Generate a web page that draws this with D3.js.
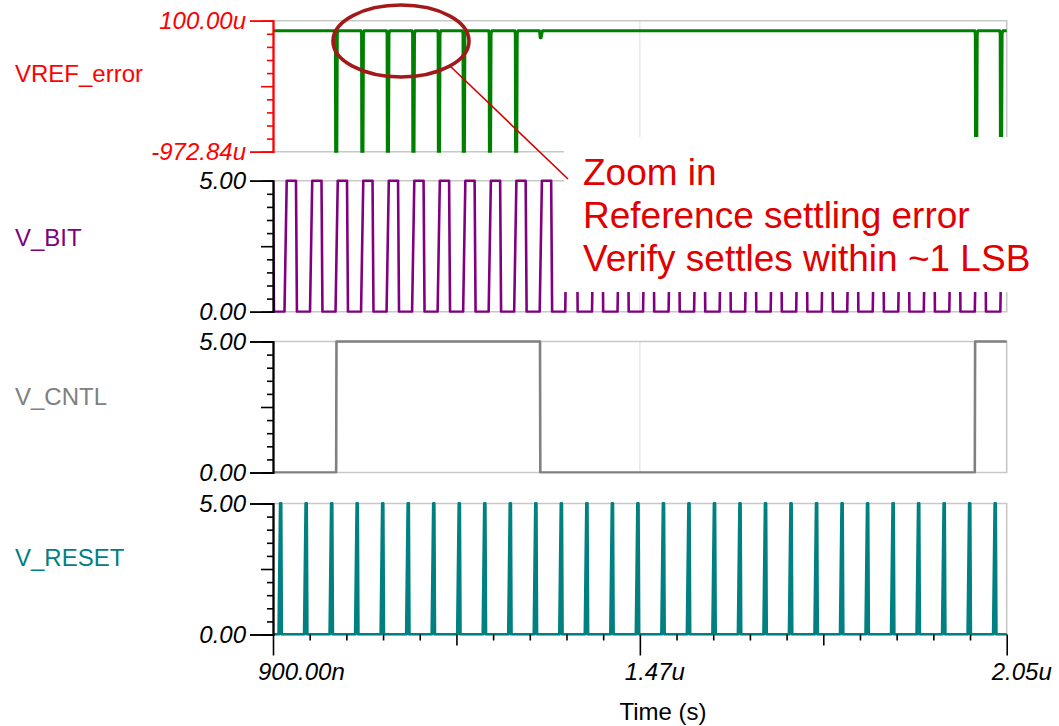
<!DOCTYPE html>
<html lang="en">
<head>
<meta charset="UTF-8">
<title>Reference settling error</title>
<style>
  body { margin: 0; background: #fff; }
  svg { display: block; font-family: "Liberation Sans", Arial, sans-serif; }
  .ylab text, .xlab { font-style: italic; font-size: 24px; }
</style>
</head>
<body>
<svg id="chart" width="1059" height="726"></svg>
<script src="https://d3js.org/d3.v7.min.js"></script>
<script>
// time axis (ns)
var timeDomain = [900, 2050];
var xTickValues = [900, 1475, 2050];
var xTickLabels = ["900.00n", "1.47u", "2.05u"];

// one entry per panel, top to bottom
var signalNames = ["VREF_error", "V_BIT", "V_CNTL", "V_RESET"];
var labelColors = ["#ff0000", "#800080", "#808080", "#008080"];
var traceColors = ["#008000", "#800080", "#808080", "#008080"];
var yDomains = [[-972.84, 100], [0, 5], [0, 5], [0, 5]];
var yTickLabels = [["100.00u", "-972.84u"], ["5.00", "0.00"], ["5.00", "0.00"], ["5.00", "0.00"]];

// VREF_error (uV): settled level and the glitches
var vrefLevel = 18;
var vrefDipTimes = [998, 1039, 1079, 1119, 1159, 1198, 1239, 1280, 1318.5, 2001, 2040];
var vrefDipDepth = [-1300, -1300, -1300, -1300, -1300, -1300, -1300, -1300, -40, -1300, -1300];

// V_BIT edges (ns), starts high
var bitRises = [918, 958, 998, 1038, 1078, 1118, 1158, 1198, 1238, 1278, 1318,
  1358, 1400, 1440, 1480, 1520, 1560, 1600, 1640, 1680, 1720, 1760, 1800, 1840,
  1880, 1920, 1960, 2000, 2040];
var bitFalls = [900, 936, 976, 1016, 1056, 1096, 1136, 1176, 1216, 1256, 1296, 1336,
  1376, 1416, 1456, 1496, 1536, 1576, 1616, 1656, 1696, 1736, 1776, 1816, 1856,
  1896, 1936, 1976, 2016];

// V_CNTL edges (ns), starts low
var cntlRises = [999, 2000];
var cntlFalls = [1318.5];

// V_RESET pulse times (ns)
var resetTimes = [912, 952, 992, 1032, 1072, 1112, 1152, 1192, 1232, 1272, 1312,
  1352, 1392, 1432, 1472, 1512, 1552, 1592, 1632, 1672, 1712, 1752, 1792, 1832,
  1872, 1912, 1952, 1992, 2032];

var noteLines = ["Zoom in", "Reference settling error", "Verify settles within ~1 LSB"];

// ---- layout
var svg = d3.select("#chart");
var left = 273, right = 1006.7;
var panelTops = [20.7, 180.7, 341.5, 503.5];
var panelH = 131;

var x = d3.scaleLinear().domain(timeDomain).range([left, right]);

// build the waveforms from the edge lists
function edgeWave(start, rises, falls, tr, tf) {
  var ev = rises.map(function (t) { return { t: t, up: true }; })
    .concat(falls.map(function (t) { return { t: t, up: false }; }))
    .sort(function (a, b) { return a.t - b.t; });
  var pts = [[timeDomain[0], start]], v = start;
  ev.forEach(function (e) {
    if (e.up) { pts.push([e.t, 0], [e.t + tr, 5]); v = 5; }
    else { pts.push([e.t, 5], [e.t + tf, 0]); v = 0; }
  });
  pts.push([timeDomain[1], v]);
  return pts;
}

var vrefPts = [[timeDomain[0], vrefLevel]];
vrefDipTimes.forEach(function (t, i) {
  var d = vrefDipDepth[i];
  vrefPts.push([t - 1, vrefLevel], [t - 0.2, vrefLevel - 25], [t + 0.3, d],
    [t + 1.8, d], [t + 2.8, vrefLevel - 25], [t + 4, vrefLevel]);
});
vrefPts.push([timeDomain[1], vrefLevel]);

var resetPts = [[timeDomain[0], 0]];
resetTimes.forEach(function (t) {
  resetPts.push([t - 3, 0], [t - 0.6, 5], [t + 0.6, 5], [t + 1.6, 0]);
});
resetPts.push([timeDomain[1], 0]);

var waves = [
  vrefPts,
  edgeWave(5, bitRises, bitFalls, 3.5, 1.5),
  edgeWave(0, cntlRises, cntlFalls, 0.5, 0.5),
  resetPts
];

svg.append("defs").selectAll("clipPath")
  .data(panelTops).enter().append("clipPath")
  .attr("id", function (d, i) { return "clip" + i; })
  .append("rect")
  .attr("x", left).attr("y", function (d) { return d - 2; })
  .attr("width", right - left + 2).attr("height", panelH + 3);

panelTops.forEach(function (top, i) {
  var y = d3.scaleLinear().domain(yDomains[i]).range([top + panelH, top]);
  var g = svg.append("g");
  var axisCol = i === 0 ? "#ff0000" : "#000";

  // frame and centre grid line
  g.append("line").attr("x1", x(xTickValues[1])).attr("x2", x(xTickValues[1]))
    .attr("y1", top).attr("y2", top + panelH).attr("stroke", "#e2e2e2").attr("stroke-width", 1.2);
  g.append("path")
    .attr("d", "M" + left + "," + top + "H" + right + "V" + (top + panelH) + "H" + left)
    .attr("fill", "none").attr("stroke", "#c8c8c8").attr("stroke-width", 1.6);

  // trace
  g.append("path")
    .datum(waves[i])
    .attr("clip-path", "url(#clip" + i + ")")
    .attr("fill", "none")
    .attr("stroke", traceColors[i])
    .attr("stroke-width", i === 0 ? 3 : (i === 3 ? 3 : 2.6))
    .attr("stroke-linejoin", "round")
    .attr("d", d3.line().x(function (d) { return x(d[0]); }).y(function (d) { return y(d[1]); }));

  // left axis: end ticks with labels, a middle tick and minor ticks
  var lo = yDomains[i][0], hi = yDomains[i][1];
  var minor = d3.range(1, 10).filter(function (k) { return k !== 5; })
    .map(function (k) { return lo + (hi - lo) * k / 10; });
  var ax = g.append("g").attr("transform", "translate(" + left + ",0)");
  ax.append("g").attr("class", "ylab")
    .call(d3.axisLeft(y).tickValues([hi, lo]).tickSize(23).tickPadding(4)
      .tickFormat(function (d, k) { return yTickLabels[i][k]; }));
  ax.append("g").call(d3.axisLeft(y).tickValues([(lo + hi) / 2]).tickSize(12).tickFormat(""));
  ax.append("g").call(d3.axisLeft(y).tickValues(minor).tickSize(6).tickFormat(""));
  ax.selectAll("path").attr("stroke", axisCol).attr("stroke-width", 1.6);
  ax.selectAll("line").attr("stroke", axisCol).attr("stroke-width", 1.6);
  ax.selectAll("text").attr("fill", axisCol);

  // signal name
  svg.append("text")
    .attr("x", 15).attr("y", [82, 246, 405, 566][i])
    .attr("fill", labelColors[i]).attr("font-size", 24)
    .text(signalNames[i]);
});

// bottom time axis
var bottom = panelTops[3] + panelH;
var xminor = d3.range(1, 20).filter(function (k) { return k % 5 !== 0; })
  .map(function (k) { return timeDomain[0] + (timeDomain[1] - timeDomain[0]) * k / 20; });
var xmid = [5, 15].map(function (k) { return timeDomain[0] + (timeDomain[1] - timeDomain[0]) * k / 20; });
var xa = svg.append("g").attr("transform", "translate(0," + bottom + ")");
xa.append("g").call(d3.axisBottom(x).tickValues(xTickValues).tickSize(21).tickFormat(""));
xa.append("g").call(d3.axisBottom(x).tickValues(xmid).tickSize(11).tickFormat(""));
xa.append("g").call(d3.axisBottom(x).tickValues(xminor).tickSize(6).tickFormat(""));
xa.selectAll("path").remove();
xa.selectAll("line").attr("stroke", "#000").attr("stroke-width", 1.6);

svg.selectAll(".xlab").data(xTickValues).enter().append("text")
  .attr("class", "xlab")
  .attr("x", function (d) { return x(d) - 15; })
  .attr("y", 680)
  .text(function (d, k) { return xTickLabels[k]; });

svg.append("text")
  .attr("x", 663).attr("y", 720)
  .attr("text-anchor", "middle").attr("font-size", 24)
  .text("Time (s)");

// annotation
svg.append("rect").attr("x", 564).attr("y", 137).attr("width", 490).attr("height", 155)
  .attr("fill", "#fff");
svg.selectAll(".note").data(noteLines).enter().append("text")
  .attr("class", "note")
  .attr("x", 583).attr("y", function (d, k) { return 185 + k * 43; })
  .attr("fill", "#e00000").attr("font-size", 37)
  .text(function (d) { return d; });

svg.append("line").attr("x1", 450).attr("y1", 66).attr("x2", 568).attr("y2", 179)
  .attr("stroke", "#d40000").attr("stroke-width", 1.6);
svg.append("ellipse").attr("cx", 401).attr("cy", 41).attr("rx", 68).attr("ry", 36)
  .attr("fill", "none").attr("stroke", "#a31818").attr("stroke-width", 3.6);
</script>
</body>
</html>
